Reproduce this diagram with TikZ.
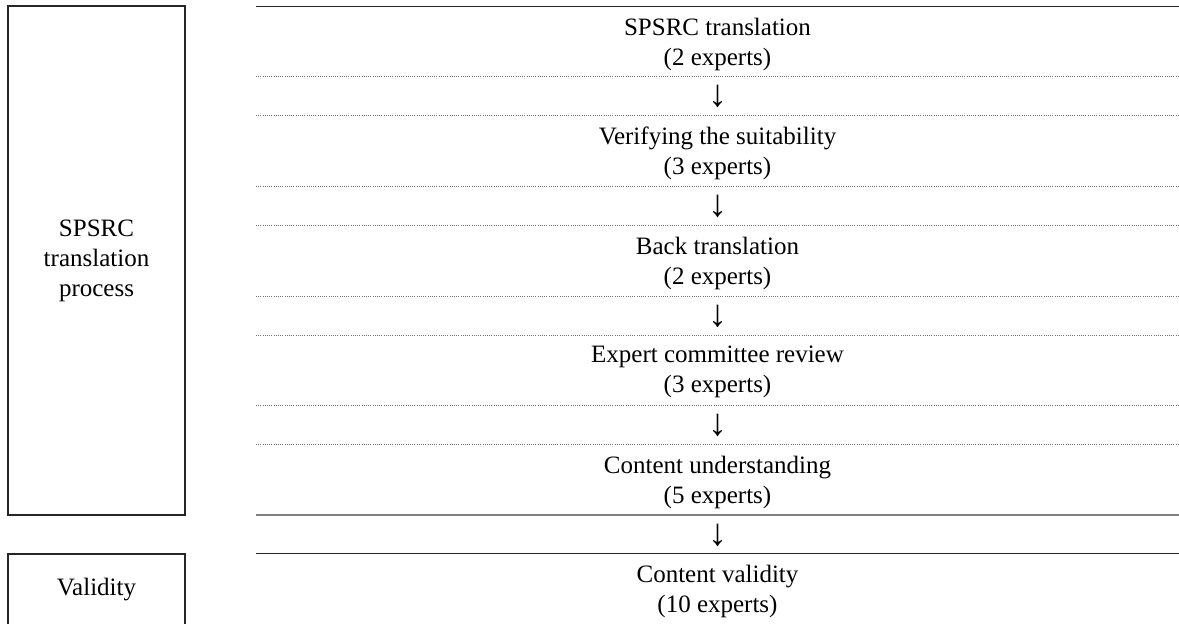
\documentclass[tikz,border=0pt]{standalone}
\usepackage{fontspec}
\setmainfont{Liberation Serif}
\usetikzlibrary{positioning}

\begin{document}
\begin{tikzpicture}[x=1pt, y=-1pt,
    cell/.style={align=center, font=\fontsize{25}{30}\selectfont, inner sep=0pt},
    arrowcell/.style={inner sep=0pt, font=\fontsize{38}{38}\selectfont},
    boxline/.style={draw=black!85, line width=1.3pt},
    dotrule/.style={draw=black!55, line width=1pt, dash pattern=on 1pt off 1.2pt},
    solidrule/.style={draw=black!85, line width=1.4pt}
]
\useasboundingbox (0,0) rectangle (1179,624);

% left column
\node[cell, boxline, minimum width=177pt, minimum height=509pt] (proc) at (96.5,260.5) {SPSRC\\translation\\process};
\draw[boxline] (8,630) -- (8,554) -- (185,554) -- (185,630);
\node[cell] (valid) at (96.5,590) {Validity};

% rules of the right column
\draw[solidrule] (256,6.5) -- (1179,6.5);
\draw[dotrule] (256,76) -- (1179,76);
\draw[dotrule] (256,115) -- (1179,115);
\draw[dotrule] (256,186) -- (1179,186);
\draw[dotrule] (256,225) -- (1179,225);
\draw[dotrule] (256,296) -- (1179,296);
\draw[dotrule] (256,335) -- (1179,335);
\draw[dotrule] (256,405) -- (1179,405);
\draw[dotrule] (256,444) -- (1179,444);
\draw[draw=black!50, line width=1.6pt] (256,515) -- (1179,515);
\draw[solidrule, line width=1.2pt] (256,553.5) -- (1179,553.5);

% steps
\node[cell] (trans) at (717.5,44) {SPSRC translation\\(2 experts)};
\node[arrowcell] (arr1) at (717.5,96) {↓};
\node[cell] (suit) at (717.5,153) {Verifying the suitability\\(3 experts)};
\node[arrowcell] (arr2) at (717.5,206) {↓};
\node[cell] (back) at (717.5,263) {Back translation\\(2 experts)};
\node[arrowcell] (arr3) at (717.5,316) {↓};
\node[cell] (review) at (717.5,372) {Expert committee review\\(3 experts)};
\node[arrowcell] (arr4) at (717.5,425) {↓};
\node[cell] (underst) at (717.5,482) {Content understanding\\(5 experts)};
\node[arrowcell] (arr5) at (717.5,535) {↓};
\node[cell] (cvalid) at (717.5,591) {Content validity\\(10 experts)};

\end{tikzpicture}
\end{document}
